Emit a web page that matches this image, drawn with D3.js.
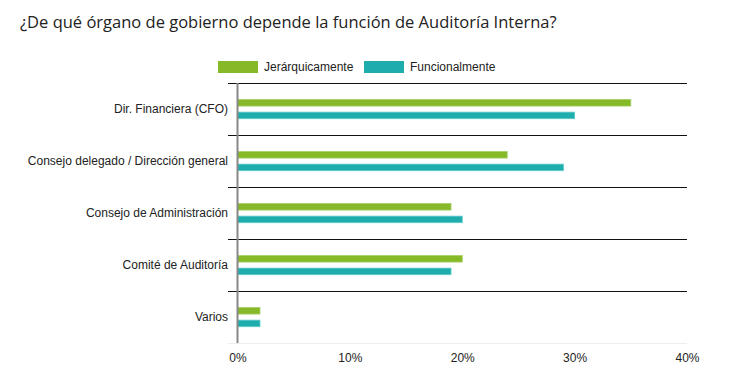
<!DOCTYPE html>
<html><head><meta charset="utf-8">
<script src="https://cdn.jsdelivr.net/npm/d3@7"></script>
<style>body{margin:0;background:#fff}</style>
</head><body>
<svg id="c" width="734" height="387"></svg>
<script>
const categories = ["Dir. Financiera (CFO)","Consejo delegado / Dirección general","Consejo de Administración","Comité de Auditoría","Varios"];
const seriesNames = ["Jerárquicamente","Funcionalmente"];
const jerarquicamente = [35,24,19,20,2];
const funcionalmente = [30,29,20,19,2];
const xTicks = [0,10,20,30,40];
const colors = ["#86b928","#1eadac"];
const strokes = ["#a6d066","#5ccaca"];
const FONT = "Liberation Sans, Arial, sans-serif";

const svg = d3.select("#c");
const m = {left:237.5, right:687, top:83, bottom:343};
const x = d3.scaleLinear().domain([0,40]).range([m.left,m.right]);
const y = d3.scaleBand().domain(categories).range([m.top,m.bottom]);
const sub = d3.scaleBand().domain(seriesNames).range([-9.5,9.7]).paddingInner(0.48).paddingOuter(0);

svg.append("text").attr("x",20).attr("y",28).text("¿De qué órgano de gobierno depende la función de Auditoría Interna?")
  .attr("font-family","Open Sans").attr("font-size",16.5).attr("fill","#222");

// legend
const lg = svg.append("g");
const lx = [218,364];
seriesNames.forEach((n,i)=>{
  lg.append("rect").attr("x",lx[i]).attr("y",61).attr("width",40).attr("height",12).attr("fill",colors[i]);
  lg.append("text").attr("x",lx[i]+46).attr("y",71).text(n).attr("font-family",FONT).attr("font-size",12).attr("fill","#222");
});

// separators
svg.selectAll("line.sep").data(categories).enter().append("line")
  .attr("x1",228).attr("x2",m.right).attr("y1",d=>y(d)).attr("y2",d=>y(d))
  .attr("stroke","#111").attr("stroke-width",1).attr("shape-rendering","crispEdges");
svg.append("line").attr("x1",228).attr("x2",m.right).attr("y1",m.bottom+0.5).attr("y2",m.bottom+0.5).attr("stroke","#eee");

// bars
const data = [jerarquicamente,funcionalmente];
seriesNames.forEach((n,si)=>{
  svg.selectAll("rect.s"+si).data(categories).enter().append("rect")
    .attr("x",x(0)).attr("y",(d)=>y(d)+y.bandwidth()/2+sub(n))
    .attr("width",(d,i)=>x(data[si][i])-x(0)).attr("height",sub.bandwidth())
    .attr("fill",colors[si]).attr("stroke",strokes[si]).attr("stroke-width",0.8);
});

// y axis line
svg.append("line").attr("x1",x(0)).attr("x2",x(0)).attr("y1",m.top).attr("y2",m.bottom).attr("stroke","#888").attr("stroke-width",2);

// category labels
svg.selectAll("text.cat").data(categories).enter().append("text")
  .attr("x",228).attr("y",d=>y(d)+y.bandwidth()/2+4).attr("text-anchor","end").text(d=>d)
  .attr("font-family",FONT).attr("font-size",12).attr("fill","#222");

// x tick labels
const xa = svg.append("g").attr("transform",`translate(0,${m.bottom+7})`)
  .call(d3.axisBottom(x).tickValues(xTicks).tickFormat(d=>d+"%").tickSize(0));
xa.select(".domain").remove();
xa.selectAll("text").attr("font-family",FONT).attr("font-size",12).attr("fill","#222");
</script>
</body></html>
